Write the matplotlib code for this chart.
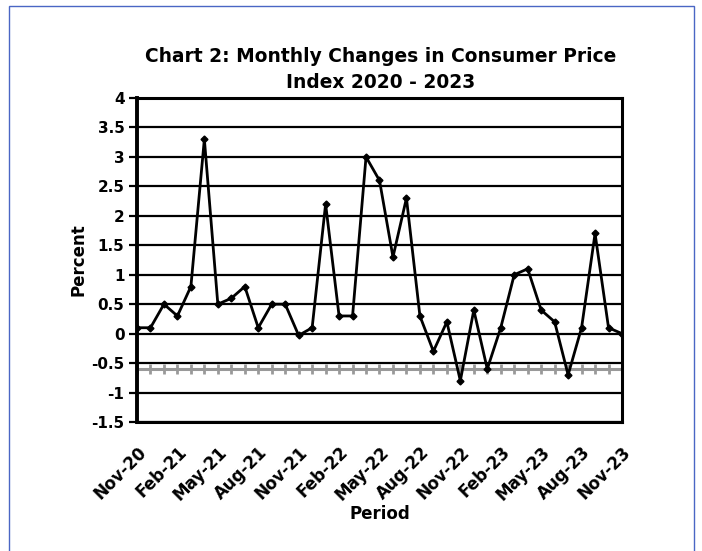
import matplotlib
matplotlib.use("Agg")
import matplotlib.pyplot as plt
from matplotlib.patches import Rectangle

periods = ["Nov-20", "Dec-20", "Jan-21", "Feb-21", "Mar-21", "Apr-21", "May-21", "Jun-21",
           "Jul-21", "Aug-21", "Sep-21", "Oct-21", "Nov-21", "Dec-21", "Jan-22", "Feb-22",
           "Mar-22", "Apr-22", "May-22", "Jun-22", "Jul-22", "Aug-22", "Sep-22", "Oct-22",
           "Nov-22", "Dec-22", "Jan-23", "Feb-23", "Mar-23", "Apr-23", "May-23", "Jun-23",
           "Jul-23", "Aug-23", "Sep-23", "Oct-23", "Nov-23"]
cpi_change = [0.1, 0.1, 0.5, 0.3, 0.8, 3.3, 0.5, 0.6, 0.8, 0.1, 0.5, 0.5, -0.03, 0.1,
              2.2, 0.3, 0.3, 3.0, 2.6, 1.3, 2.3, 0.3, -0.3, 0.2, -0.8, 0.4, -0.6, 0.1,
              1.0, 1.1, 0.4, 0.2, -0.7, 0.1, 1.7, 0.1, 0.0]
yticks = [-1.5, -1, -0.5, 0, 0.5, 1, 1.5, 2, 2.5, 3, 3.5, 4]
ytick_labels = ["-1.5", "-1", "-0.5", "0", "0.5", "1", "1.5", "2", "2.5", "3", "3.5", "4"]
axis_cross = -0.6

plt.rcParams['font.family'] = ['DejaVu Sans']

fig = plt.figure(figsize=(7.02, 5.51), dpi=100)
fig.patch.set_facecolor("white")
fig.patches.append(Rectangle((9/702, -0.01), (694-9)/702, 1 - 6/551 + 0.01,
                             transform=fig.transFigure, fill=False,
                             edgecolor="#4a66c4", linewidth=1.0))

ax = fig.add_axes([137/702, 1 - 422/551, (622-137)/702, (422-98)/551])
x = list(range(len(periods)))

for yv in yticks:
    ax.axhline(yv, color="black", linewidth=1.6, zorder=1)

ax.axhline(axis_cross, color="#999999", linewidth=2.2, zorder=2)
ax.vlines(x, axis_cross - 0.08, axis_cross + 0.08, color="#999999", linewidth=2.0, zorder=2)

ax.plot(x, cpi_change, color="black", linewidth=2.0, marker="D", markersize=3.5, zorder=3)

ax.set_xlim(0, 36)
ax.set_ylim(-1.5, 4)
ax.set_yticks(yticks)
ax.set_yticklabels(ytick_labels, fontsize=11, fontweight="bold")
ax.set_xticks(x[::3])
ax.set_xticklabels(periods[::3], rotation=45, ha="right", rotation_mode="anchor",
                   fontsize=12, fontweight="bold")
ax.tick_params(axis="x", length=0, pad=15)
ax.tick_params(axis="y", length=6, width=1.6, pad=3)

for side in ["left", "right", "top", "bottom"]:
    ax.spines[side].set_linewidth(2.2)
ax.spines["left"].set_linewidth(2.8)

ax.set_ylabel("Percent", fontsize=12, fontweight="bold", labelpad=3)
ax.set_xlabel("Period", fontsize=12, fontweight="bold", labelpad=1)
fig.text(381/702, 1 - 56/551, "Chart 2: Monthly Changes in Consumer Price",
         ha="center", va="center", fontsize=13.4, fontweight="bold")
fig.text(381/702, 1 - 82/551, "Index 2020 - 2023",
         ha="center", va="center", fontsize=13.4, fontweight="bold")

fig.savefig("out.png", dpi=100, facecolor="white")
